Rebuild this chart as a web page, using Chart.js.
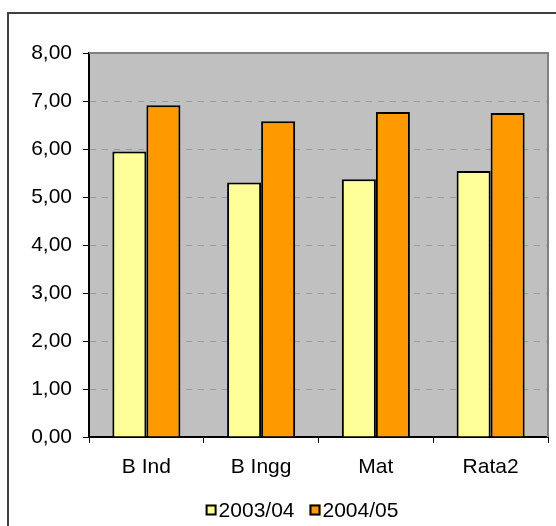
<!DOCTYPE html>
<html>
<head>
<meta charset="utf-8">
<script src="https://cdn.jsdelivr.net/npm/chart.js@4.4.0/dist/chart.umd.min.js"></script>
<style>
  html, body { margin: 0; padding: 0; background: #fff; }
  canvas { display: block; }
</style>
</head>
<body>
<canvas id="nilai" width="556" height="526"></canvas>
<script>
// Nilai rata-rata per mata pelajaran, 2003/04 vs 2004/05.
var categories = ["B Ind", "B Ingg", "Mat", "Rata2"];
var seriesNames = ["2003/04", "2004/05"];
var nilai0304 = [5.95, 5.30, 5.37, 5.54];
var nilai0405 = [6.91, 6.58, 6.77, 6.75];
var yTicks = [0, 1, 2, 3, 4, 5, 6, 7, 8];

var FONT = "'Liberation Sans', Arial, sans-serif";
var FSIZE = 21;
var colors = ["#FFFF99", "#FF9900"];

var fmt = function (v) { return v.toFixed(2).replace(".", ","); };

// background plot area + outer frame
var framePlugin = {
    id: "frame",
    beforeDraw: function (c) {
        var ctx = c.ctx, a = c.chartArea;
        ctx.save();
        ctx.strokeStyle = "#404040";
        ctx.lineWidth = 2;
        ctx.beginPath();
        ctx.moveTo(8, 600); ctx.lineTo(8, 13); ctx.lineTo(600, 13);
        ctx.stroke();
        ctx.fillStyle = "#C0C0C0";
        ctx.fillRect(a.left, a.top, a.right - a.left, a.bottom - a.top);
        ctx.restore();
    },
    beforeDatasetsDraw: function (c) {
        var ctx = c.ctx, a = c.chartArea;
        ctx.save();
        ctx.strokeStyle = "#808080";
        ctx.lineWidth = 2;
        ctx.beginPath();
        ctx.moveTo(a.left, a.top); ctx.lineTo(a.right, a.top); ctx.lineTo(a.right, a.bottom);
        ctx.stroke();
        ctx.restore();
    }
};

// legend drawn manually to mimic the excel one
var legendPlugin = {
    id: "excelLegend",
    afterDraw: function (c) {
        var ctx = c.ctx;
        var box = 11, gap = 2, itemGap = 15, cy = 510, cx = 302;
        ctx.save();
        ctx.font = FSIZE + "px " + FONT;
        ctx.textBaseline = "middle";
        var widths = c.data.datasets.map(function (d) { return ctx.measureText(d.label).width; });
        var total = 0;
        widths.forEach(function (w, i) { total += box + gap + w + (i ? itemGap : 0); });
        var x = cx - total / 2;
        c.data.datasets.forEach(function (d, i) {
            ctx.fillStyle = d.backgroundColor;
            ctx.fillRect(x, cy - box / 2, box, box);
            ctx.strokeStyle = "#000";
            ctx.lineWidth = 2;
            ctx.strokeRect(x + 1, cy - box / 2 + 1, box - 2, box - 2);
            ctx.fillStyle = "#000";
            ctx.fillText(d.label, x + box + gap, cy + 1);
            x += box + gap + widths[i] + itemGap;
        });
        ctx.restore();
    }
};

new Chart(document.getElementById("nilai").getContext("2d"), {
    type: "bar",
    data: {
        labels: categories,
        datasets: [
            { label: seriesNames[0], data: nilai0304, backgroundColor: colors[0] },
            { label: seriesNames[1], data: nilai0405, backgroundColor: colors[1] }
        ]
    },
    plugins: [framePlugin, legendPlugin],
    options: {
        responsive: false, animation: false,
        layout: { padding: { left: 0, top: 53, right: 8, bottom: 39 } },
        datasets: { bar: { borderColor: "#000", borderWidth: 2, categoryPercentage: 0.593, barPercentage: 1 } },
        scales: {
            x: {
                afterFit: function (s) { s.height = 50; },
                grid: { offset: true, drawOnChartArea: false, tickLength: 6, tickColor: "#000", tickWidth: 1 },
                border: { color: "#000", width: 2 },
                ticks: { color: "#000", padding: 12, font: { family: FONT, size: FSIZE } }
            },
            y: {
                min: 0, max: 8,
                afterFit: function (s) { s.width = 89; },
                afterBuildTicks: function (s) { s.ticks = yTicks.map(function (v) { return { value: v }; }); },
                grid: {
                    color: function (ctx) {
                        var v = ctx.tick && ctx.tick.value;
                        return (v === 0 || v === 8) ? "rgba(0,0,0,0)" : "#9A9A9A";
                    },
                    lineWidth: 1,
                    tickLength: 6, tickColor: "#000", tickWidth: 1, tickBorderDash: []
                },
                border: { color: "#000", width: 2, dash: [6, 6] },
                ticks: { color: "#000", padding: 11, font: { family: FONT, size: FSIZE },
                         callback: function (v) { return fmt(v); } }
            }
        },
        plugins: { legend: { display: false }, tooltip: { enabled: false } }
    }
});
</script>
</body>
</html>
